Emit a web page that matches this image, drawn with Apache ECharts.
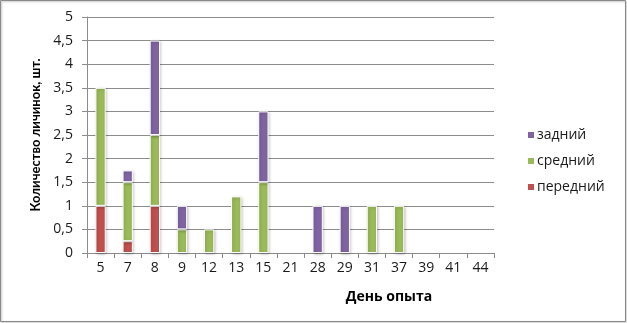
<!DOCTYPE html>
<html>
<head>
<meta charset="utf-8">
<script src="https://cdn.jsdelivr.net/npm/echarts@6/dist/echarts.min.js"></script>
<style>
  html, body { margin: 0; padding: 0; background: #fff; }
  #chart { width: 627px; height: 323px; }
</style>
</head>
<body>
<div id="chart"></div>
<script>
// дни опыта
var days = ['5', '7', '8', '9', '12', '13', '15', '21', '28', '29', '31', '37', '39', '41', '44'];
// передний / средний / задний (null = нет столбца)
var front  = [1, 0.25, 1, null, null, null, null, null, null, null, null, null, null, null, null];
var middle = [2.5, 1.25, 1.5, 0.5, 0.5, 1.2, 1.5, null, null, null, 1, 1, null, null, null];
var back   = [null, 0.25, 2, 0.5, null, null, 1.5, null, 1, 1, null, null, null, null, null];

var font = '"Open Sans", Lato, sans-serif';

function barStyle(color) {
    return {
        color: color,
        borderColor: '#fff',
        borderWidth: 1,
        shadowColor: 'rgba(0,0,0,0.25)',
        shadowBlur: 3,
        shadowOffsetX: 1,
        shadowOffsetY: 1
    };
}

var chart = echarts.init(document.getElementById('chart'));
var option = {
    animation: false,
    textStyle: { fontFamily: font },
    grid: { left: 87, right: 133, top: 17, bottom: 70 },
    legend: {
        orient: 'vertical',
        left: 521,
        top: 123,
        itemWidth: 8,
        itemHeight: 8,
        itemGap: 12,
        icon: 'rect',
        data: ['задний', 'средний', 'передний'],
        textStyle: { fontFamily: font, fontSize: 14, color: '#1a1a1a', padding: [0, 0, 0, -3] }
    },
    xAxis: {
        type: 'category',
        data: days,
        axisLine: { lineStyle: { color: '#8c8c8c' } },
        axisTick: { show: true, alignWithLabel: false, length: 5, lineStyle: { color: '#8c8c8c' } },
        axisLabel: { color: '#1a1a1a', fontSize: 14, margin: 8 }
    },
    yAxis: {
        type: 'value',
        min: 0,
        max: 5,
        interval: 0.5,
        axisLine: { show: true, lineStyle: { color: '#8c8c8c' } },
        axisTick: { show: true, length: 5, lineStyle: { color: '#8c8c8c' } },
        splitLine: { lineStyle: { color: '#8c8c8c' } },
        axisLabel: {
            color: '#1a1a1a', fontSize: 14, margin: 14,
            formatter: function (v) { return String(v).replace('.', ','); }
        }
    },
    series: [
        { name: 'передний', type: 'bar', stack: 'all', barWidth: '38%', data: front, itemStyle: barStyle('#C0504D') },
        { name: 'средний', type: 'bar', stack: 'all', barWidth: '38%', data: middle, itemStyle: barStyle('#9BBB59') },
        { name: 'задний', type: 'bar', stack: 'all', barWidth: '38%', data: back, itemStyle: barStyle('#8064A2') }
    ],
    graphic: [
        {
            type: 'rect',
            shape: { x: 0.5, y: 0.5, width: 625, height: 321 },
            style: { fill: 'none', stroke: '#8a8a8a', lineWidth: 1, shadowColor: 'rgba(0,0,0,0.3)', shadowBlur: 2, shadowOffsetX: 1, shadowOffsetY: 1 },
            silent: true
        },
        {
            type: 'text',
            x: 36,
            y: 135,
            rotation: Math.PI / 2,
            style: {
                text: 'Количество личинок, шт.',
                font: 'bold 13px Lato, sans-serif',
                fill: '#000',
                align: 'center',
                verticalAlign: 'middle'
            },
            silent: true
        },
        {
            type: 'text',
            x: 389,
            y: 297,
            style: {
                text: 'День опыта',
                font: 'bold 14px ' + font,
                fill: '#000',
                align: 'center',
                verticalAlign: 'middle'
            },
            silent: true
        }
    ]
};
chart.setOption(option);
</script>
</body>
</html>
